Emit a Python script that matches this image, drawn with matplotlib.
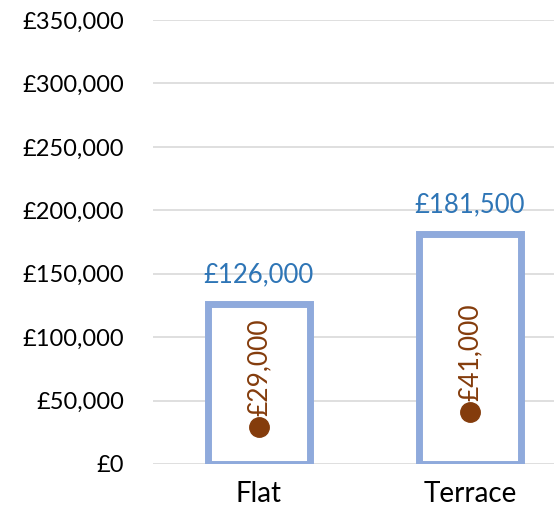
import matplotlib
matplotlib.use("Agg")
import matplotlib.pyplot as plt
from matplotlib.ticker import FuncFormatter

# ── Data ──────────────────────────────────────────────────────────────────────
categories = ["Flat", "Terrace"]
bar_values = [126000, 181500]
dot_values = [29000, 41000]

BAR_EDGE  = "#8FAADC"
BAR_LABEL = "#2E75B6"
DOT_COLOR = "#843C0C"

plt.rcParams["font.family"] = ["Lato", "DejaVu Sans"]

fig = plt.figure(figsize=(5.54, 5.20), dpi=100)
ax = fig.add_axes([153 / 554, 1 - 464 / 520, (554 - 153) / 554, (464 - 20) / 520])

x = list(range(len(categories)))
ax.bar(x, bar_values, width=0.48, facecolor="white", edgecolor=BAR_EDGE,
       linewidth=5, zorder=3)
ax.plot(x, dot_values, "o", color=DOT_COLOR, markersize=14, zorder=4)

for xi, v in zip(x, bar_values):
    ax.annotate(f"£{v:,.0f}", (xi, v), xytext=(0, 12), textcoords="offset points",
                ha="center", va="bottom", color=BAR_LABEL, fontsize=18.5, zorder=5)
for xi, v in zip(x, dot_values):
    ax.annotate(f"£{v:,.0f}", (xi, v), xytext=(0, 8), textcoords="offset points",
                ha="center", va="bottom", rotation=90, color=DOT_COLOR,
                fontsize=19, zorder=5)

ax.set_ylim(0, 350000)
ax.set_yticks(range(0, 350001, 50000))
ax.yaxis.set_major_formatter(FuncFormatter(lambda v, _: f"£{v:,.0f}"))
ax.set_xlim(-0.502, 1.398)
ax.set_xticks(x)
ax.set_xticklabels(categories)
ax.grid(axis="y", color="#D9D9D9", linewidth=1.2, zorder=0)
ax.set_axisbelow(True)
for s in ax.spines.values():
    s.set_visible(False)
ax.tick_params(axis="both", length=0, colors="black")
ax.tick_params(axis="y", labelsize=17, pad=21)
ax.tick_params(axis="x", labelsize=20, pad=12)

fig.savefig("out.png", dpi=100)
